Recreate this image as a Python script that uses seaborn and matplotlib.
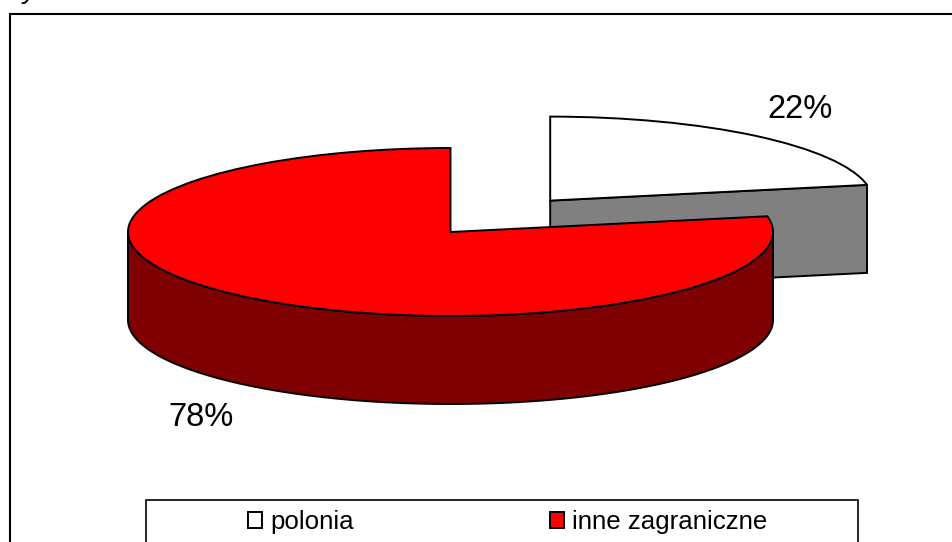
import numpy as np
import matplotlib.pyplot as plt
from matplotlib.patches import Rectangle
import seaborn as sns

# Data
labels = ["polonia", "inne zagraniczne"]
shares = [22, 78]
colors = ["#FFFFFF", "#FF0000"]
side_colors = ["#808080", "#7F0000"]
explode = [0.485, 0]

W, H = 952, 542
# pie centre and radii in pixels, the pie is squashed to look 3D
CX, CY = 450.5, 232
RX, RY = 322.5, 84
DEPTH = 88 / RY
LW = 1.4

sns.set_theme(style="white")
plt.rcParams["font.family"] = ["Liberation Sans", "DejaVu Sans"]
plt.rcParams["text.color"] = "black"

fig = plt.figure(figsize=(W / 100, H / 100), dpi=100, facecolor="white")
ax = fig.add_axes([0, 0, 1, 1])

wedges, _ = ax.pie(
    shares,
    explode=explode,
    colors=colors,
    startangle=90,
    counterclock=False,
    center=(0, 0),
    wedgeprops={"edgecolor": "black", "linewidth": LW, "zorder": 3},
)
ax.set_aspect("auto")
ax.set_xlim(-CX / RX, (W - CX) / RX)
ax.set_ylim((CY - H) / RY, CY / RY)
ax.axis("off")

# cut face of the pulled out slice
split = np.deg2rad(90 - shares[0] / sum(shares) * 360)
ox, oy = wedges[0].center
ax.fill(
    [ox, ox + np.cos(split), ox + np.cos(split), ox],
    [oy, oy + np.sin(split), oy + np.sin(split) - DEPTH, oy - DEPTH],
    facecolor=side_colors[0], edgecolor="black", linewidth=LW, zorder=1,
)

# outer wall of the big slice
t = np.linspace(0, -np.pi, 200)
rim_x = np.cos(t)
rim_y = np.sin(t)
ax.fill(
    np.r_[rim_x, rim_x[::-1]],
    np.r_[rim_y, rim_y[::-1] - DEPTH],
    facecolor=side_colors[1], edgecolor="black", linewidth=LW, zorder=2,
)

# percent labels
fig.text(800 / W, 1 - 109 / H, f"{shares[0]}%", fontsize=23.5,
         ha="center", va="center")
fig.text(201 / W, 1 - 417 / H, f"{shares[1]}%", fontsize=23.5,
         ha="center", va="center")

# cut off text above the chart
fig.text(30 / W, 1 - (-9) / H, "y", fontsize=20, style="italic",
         ha="center", va="center")

# outer frame, runs off the bottom and right of the picture
fig.add_artist(Rectangle((10 / W, -0.1), 1.0, 1.1 - 14 / H, transform=fig.transFigure,
                         facecolor="none", edgecolor="black", linewidth=1.5))
# legend box
fig.add_artist(Rectangle((146 / W, -0.1), 712 / W, 0.1 + 42 / H, transform=fig.transFigure,
                         facecolor="none", edgecolor="black", linewidth=1.2))

leg = ax.legend(
    wedges, labels,
    ncol=2,
    loc="center left",
    bbox_to_anchor=(248 / W, 1 - 522 / H),
    bbox_transform=fig.transFigure,
    frameon=False,
    fontsize=18.6,
    handlelength=0.54,
    handleheight=0.54,
    handletextpad=0.31,
    columnspacing=7.6,
    borderpad=0,
    borderaxespad=0,
)

fig.savefig("out.png", dpi=100)
